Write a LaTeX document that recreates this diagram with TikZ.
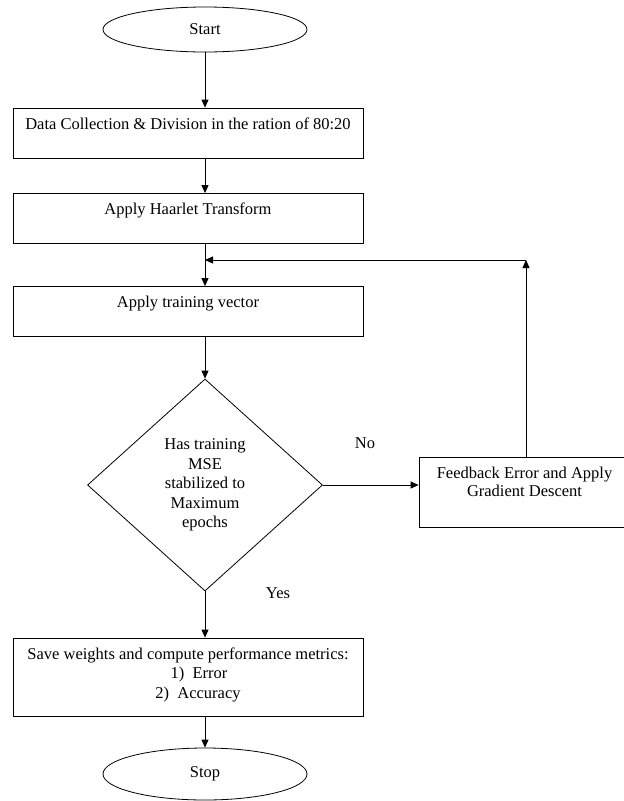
\documentclass[tikz,border=0pt]{standalone}
\usepackage{fontspec}
\setmainfont{Liberation Serif}
\usetikzlibrary{shapes.geometric,arrows.meta}
\tikzset{
  base/.style={font=\fontsize{16.5}{19.5}\selectfont, line width=0.8pt},
  ell/.style={base, draw, ellipse, inner sep=0pt, minimum width=204pt},
  box/.style={base, draw, rectangle, inner xsep=0pt, inner ysep=5pt, text height=16pt},
  dec/.style={base, draw, diamond, inner sep=0pt, align=center, minimum width=235pt, minimum height=212pt},
  lbl/.style={font=\fontsize{16.5}{19.5}\selectfont, inner sep=0pt},
  arr/.style={line width=0.8pt, -{Triangle[length=8pt,width=7pt]}},
  ln/.style={line width=0.8pt}
}
\begin{document}
\begin{tikzpicture}[x=1pt,y=-1pt]
\useasboundingbox (0,0) rectangle (624,801);
\node[ell, minimum height=45pt] (start) at (205,29.5) {Start};
\node[box, minimum width=350pt, text depth=24pt] (b1) at (188,133) {Data Collection \& Division in the ration of 80:20};
\node[box, minimum width=350pt, text depth=24pt] (b2) at (188,218.5) {Apply Haarlet Transform};
\node[box, minimum width=350pt, text depth=24pt] (b3) at (188,311.5) {Apply training vector};
\node[dec] (dec) at (205,485) {Has training\\MSE\\stabilized to\\Maximum\\epochs};
\node[box, minimum width=211pt, text depth=44pt] (fb) at (524.5,492) {\renewcommand{\arraystretch}{0.95}\begin{tabular}[t]{@{}c@{}}Feedback Error and Apply\\Gradient Descent\end{tabular}};
\node[box, minimum width=350pt, text depth=52pt] (b4) at (188,677) {\begin{tabular}[t]{@{}c@{}}Save weights and compute performance metrics:\\\hspace*{22pt}1)\ \ Error\\\hspace*{20pt}2)\ \ Accuracy\end{tabular}};
\node[ell, minimum height=52pt] (stop) at (205,774) {Stop};
\node[lbl] (no) at (365,443) {No};
\node[lbl] (yes) at (278,593) {Yes};
\coordinate (corner) at (526,260);
\draw[arr] (start.south) -- (start.south |- b1.north);
\draw[arr] (b1.south -| start) -- (b2.north -| start);
\draw[arr] (b2.south -| start) -- (b3.north -| start);
\draw[arr] (b3.south -| start) -- (dec.north);
\draw[arr] (dec.east) -- (dec.east -| fb.west);
\draw[arr] (corner |- fb.north) -- (corner);
\draw[arr] (corner) -- (corner -| start);
\draw[arr] (dec.south) -- (dec.south |- b4.north);
\draw[arr] (b4.south -| stop) -- (stop.north);
\end{tikzpicture}
\end{document}
